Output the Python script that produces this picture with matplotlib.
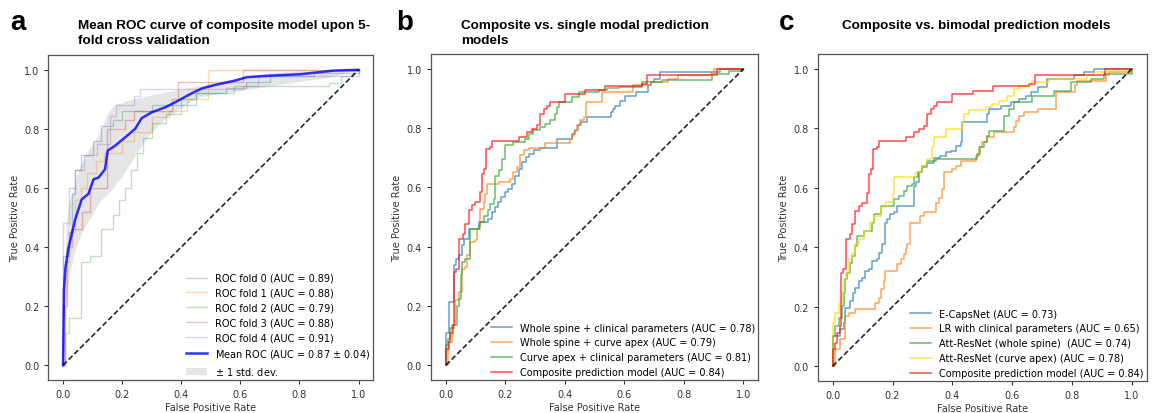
import matplotlib
matplotlib.use("Agg")
import matplotlib.pyplot as plt

plt.rcParams['font.family'] = ['DejaVu Sans']
plt.rcParams['font.size'] = 7

# ---- panel a: 5-fold cross validation ----
fold0_fpr = [0, 0, 0.02, 0.03, 0.04, 0.06, 0.10, 0.13, 0.17, 0.20, 0.30, 0.45, 0.55, 0.62, 0.70, 0.85, 1.0]
fold0_tpr = [0, 0.37, 0.45, 0.58, 0.66, 0.71, 0.76, 0.81, 0.83, 0.86, 0.88, 0.92, 0.94, 0.96, 0.98, 0.99, 1.0]
fold1_fpr = [0, 0, 0.01, 0.02, 0.04, 0.06, 0.08, 0.11, 0.14, 0.20, 0.24, 0.30, 0.36, 0.42, 0.49, 1.0]
fold1_tpr = [0, 0.20, 0.35, 0.45, 0.56, 0.60, 0.65, 0.69, 0.72, 0.76, 0.79, 0.84, 0.86, 0.90, 1.0, 1.0]
fold2_fpr = [0, 0.008, 0.02, 0.06, 0.09, 0.13, 0.17, 0.19, 0.21, 0.23, 0.25, 0.27, 0.30, 0.35, 0.40,
             0.45, 0.58, 0.90, 0.94, 0.98, 1.0]
fold2_tpr = [0, 0.11, 0.16, 0.35, 0.37, 0.46, 0.51, 0.56, 0.60, 0.66, 0.72, 0.77, 0.82, 0.85, 0.90,
             0.92, 0.945, 0.955, 0.98, 0.997, 1.0]
fold3_fpr = [0, 0.008, 0.015, 0.03, 0.065, 0.09, 0.15, 0.21, 0.24, 0.37, 0.39, 0.61, 1.0]
fold3_tpr = [0, 0.20, 0.40, 0.46, 0.52, 0.60, 0.80, 0.83, 0.86, 0.90, 0.96, 1.0, 1.0]
fold4_fpr = [0, 0, 0.02, 0.04, 0.07, 0.115, 0.16, 0.18, 0.24, 0.26, 0.61, 0.66, 1.0]
fold4_tpr = [0, 0.48, 0.60, 0.66, 0.71, 0.75, 0.845, 0.88, 0.91, 0.935, 0.945, 0.98, 1.0]
fold_auc = [0.89, 0.88, 0.79, 0.88, 0.91]

mean_fpr = [0, 0.003, 0.008, 0.019, 0.041, 0.063, 0.086, 0.103, 0.12, 0.142, 0.151, 0.176, 0.21, 0.244,
            0.266, 0.30, 0.346, 0.391, 0.425, 0.47, 0.52, 0.577, 0.622, 0.70, 0.803, 0.915, 1.0]
mean_tpr = [0, 0.25, 0.33, 0.40, 0.493, 0.561, 0.58, 0.629, 0.635, 0.663, 0.726, 0.743, 0.771, 0.80,
            0.836, 0.856, 0.873, 0.896, 0.915, 0.937, 0.95, 0.962, 0.975, 0.98, 0.985, 0.997, 1.0]
band_fpr = [0, 0.01, 0.02, 0.04, 0.06, 0.08, 0.1, 0.12, 0.15, 0.17, 0.2, 0.25, 0.3, 0.35, 0.4, 0.45,
            0.5, 0.6, 0.7, 0.8, 0.9, 1.0]
band_upper = [0.05, 0.47, 0.55, 0.62, 0.68, 0.72, 0.75, 0.78, 0.85, 0.88, 0.89, 0.905, 0.915, 0.925,
              0.935, 0.945, 0.955, 0.975, 0.99, 0.995, 0.998, 1.0]
band_lower = [0.0, 0.22, 0.30, 0.39, 0.44, 0.48, 0.51, 0.55, 0.58, 0.60, 0.64, 0.72, 0.79, 0.84, 0.87,
              0.905, 0.915, 0.93, 0.945, 0.96, 0.975, 1.0]
mean_auc, std_auc = 0.87, 0.04

# ---- composite model (shared by b and c) ----
comp_fpr = [0, 0, 0.009, 0.015, 0.024, 0.028, 0.035, 0.043, 0.057, 0.065, 0.076, 0.087, 0.099, 0.115,
            0.121, 0.127, 0.134, 0.149, 0.155, 0.244, 0.272, 0.289, 0.306, 0.317, 0.328, 0.339, 0.35,
            0.40, 0.468, 0.535, 0.658, 0.675, 0.91, 1.0]
comp_tpr = [0, 0.056, 0.079, 0.11, 0.135, 0.315, 0.326, 0.427, 0.444, 0.478, 0.522, 0.539, 0.55, 0.584,
            0.646, 0.663, 0.73, 0.736, 0.758, 0.77, 0.787, 0.798, 0.809, 0.848, 0.865, 0.876, 0.888,
            0.916, 0.927, 0.942, 0.95, 0.978, 1.0, 1.0]

# ---- panel b: single modal models ----
wsc_fpr = [0, 0, 0.009, 0.026, 0.035, 0.043, 0.054, 0.06, 0.076, 0.11, 0.143, 0.155, 0.165, 0.175, 0.185,
           0.20, 0.21, 0.222, 0.233, 0.245, 0.256, 0.268, 0.28, 0.295, 0.317, 0.373, 0.423, 0.433, 0.445,
           0.455, 0.475, 0.555, 0.562, 0.569, 0.586, 0.603, 0.64, 0.68, 0.69, 0.70, 0.72, 0.92, 1.0]
wsc_tpr = [0, 0.107, 0.213, 0.337, 0.36, 0.371, 0.404, 0.427, 0.46, 0.483, 0.494, 0.517, 0.534, 0.551,
           0.567, 0.584, 0.596, 0.612, 0.64, 0.663, 0.685, 0.702, 0.713, 0.725, 0.733, 0.764, 0.781, 0.792,
           0.81, 0.82, 0.837, 0.854, 0.865, 0.876, 0.893, 0.91, 0.921, 0.944, 0.955, 0.966, 0.989, 1.0, 1.0]
wsa_fpr = [0, 0.006, 0.02, 0.031, 0.043, 0.054, 0.065, 0.071, 0.082, 0.099, 0.104, 0.115, 0.127, 0.132,
           0.138, 0.177, 0.216, 0.227, 0.239, 0.25, 0.261, 0.278, 0.333, 0.418, 0.425, 0.432, 0.44, 0.452,
           0.465, 0.47, 0.524, 0.63, 0.69, 0.745, 0.78, 0.89, 0.90, 1.0]
wsa_tpr = [0, 0.079, 0.135, 0.219, 0.247, 0.326, 0.331, 0.371, 0.416, 0.421, 0.46, 0.528, 0.55, 0.579,
           0.612, 0.618, 0.629, 0.652, 0.669, 0.708, 0.725, 0.733, 0.75, 0.764, 0.775, 0.79, 0.81, 0.826,
           0.837, 0.888, 0.921, 0.944, 0.955, 0.967, 0.978, 0.99, 1.0, 1.0]
cac_fpr = [0, 0, 0.006, 0.015, 0.026, 0.037, 0.043, 0.05, 0.054, 0.065, 0.082, 0.11, 0.115, 0.127, 0.143,
           0.149, 0.16, 0.166, 0.177, 0.188, 0.2, 0.227, 0.267, 0.278, 0.294, 0.317, 0.334, 0.35, 0.367,
           0.373, 0.379, 0.423, 0.446, 0.513, 0.541, 0.58, 0.658, 0.726, 0.893, 0.95, 1.0]
cac_tpr = [0, 0.067, 0.09, 0.124, 0.135, 0.2, 0.225, 0.303, 0.348, 0.36, 0.46, 0.47, 0.483, 0.505, 0.522,
           0.545, 0.562, 0.64, 0.657, 0.697, 0.742, 0.753, 0.764, 0.781, 0.792, 0.803, 0.815, 0.826, 0.848,
           0.871, 0.888, 0.904, 0.921, 0.93, 0.935, 0.938, 0.955, 0.961, 0.983, 0.994, 1.0]
b_labels = ['Whole spine + clinical parameters (AUC = 0.78)',
            'Whole spine + curve apex (AUC = 0.79)',
            'Curve apex + clinical parameters (AUC = 0.81)',
            'Composite prediction model (AUC = 0.84)']

# ---- panel c: bimodal models ----
caps_fpr = [0, 0, 0.026, 0.037, 0.042, 0.059, 0.067, 0.076, 0.087, 0.098, 0.107, 0.121, 0.132, 0.149,
            0.154, 0.165, 0.174, 0.182, 0.193, 0.204, 0.216, 0.272, 0.279, 0.288, 0.30, 0.316, 0.339,
            0.36, 0.378, 0.394, 0.411, 0.428, 0.434, 0.517, 0.523, 0.562, 0.596, 0.623, 0.646, 0.663,
            0.685, 0.718, 0.808, 0.84, 0.875, 1.0]
caps_tpr = [0, 0.101, 0.124, 0.146, 0.197, 0.219, 0.247, 0.264, 0.287, 0.298, 0.32, 0.326, 0.354, 0.36,
            0.382, 0.41, 0.483, 0.494, 0.511, 0.517, 0.539, 0.607, 0.618, 0.652, 0.67, 0.685, 0.70,
            0.708, 0.719, 0.725, 0.742, 0.753, 0.82, 0.848, 0.865, 0.876, 0.888, 0.899, 0.91, 0.921,
            0.938, 0.966, 0.978, 0.989, 1.0, 1.0]
lr_fpr = [0, 0.009, 0.026, 0.042, 0.054, 0.076, 0.143, 0.154, 0.16, 0.171, 0.176, 0.216, 0.227, 0.239,
          0.244, 0.25, 0.26, 0.293, 0.305, 0.344, 0.355, 0.366, 0.372, 0.40, 0.411, 0.428, 0.478, 0.489,
          0.50, 0.517, 0.539, 0.607, 0.613, 0.624, 0.641, 0.686, 0.747, 0.81, 0.818, 0.914, 0.925, 1.0]
lr_tpr = [0, 0.056, 0.09, 0.169, 0.18, 0.191, 0.213, 0.23, 0.258, 0.287, 0.32, 0.343, 0.36, 0.376,
          0.399, 0.41, 0.483, 0.506, 0.517, 0.55, 0.567, 0.595, 0.652, 0.663, 0.674, 0.691, 0.708, 0.736,
          0.753, 0.77, 0.787, 0.803, 0.826, 0.843, 0.854, 0.865, 0.921, 0.946, 0.96, 0.978, 0.989, 1.0]
arws_fpr = [0, 0, 0.009, 0.02, 0.031, 0.037, 0.042, 0.048, 0.059, 0.065, 0.076, 0.082, 0.104, 0.132,
            0.137, 0.16, 0.205, 0.221, 0.238, 0.249, 0.264, 0.272, 0.286, 0.30, 0.316, 0.344, 0.483,
            0.494, 0.506, 0.517, 0.522, 0.572, 0.589, 0.606, 0.668, 0.74, 0.796, 0.863, 0.908, 1.0]
arws_tpr = [0, 0.101, 0.135, 0.163, 0.202, 0.247, 0.292, 0.315, 0.348, 0.371, 0.404, 0.438, 0.455, 0.483,
            0.511, 0.539, 0.562, 0.573, 0.59, 0.607, 0.612, 0.635, 0.652, 0.674, 0.691, 0.697, 0.714,
            0.736, 0.753, 0.775, 0.792, 0.843, 0.865, 0.888, 0.91, 0.926, 0.955, 0.967, 0.983, 1.0]
arca_fpr = [0, 0, 0.009, 0.02, 0.031, 0.037, 0.045, 0.054, 0.065, 0.076, 0.087, 0.104, 0.126, 0.137,
            0.16, 0.177, 0.20, 0.205, 0.277, 0.30, 0.316, 0.333, 0.339, 0.378, 0.434, 0.439, 0.456, 0.511,
            0.534, 0.556, 0.584, 0.606, 0.623, 0.662, 0.723, 0.852, 0.875, 0.92, 1.0]
arca_tpr = [0, 0.146, 0.18, 0.208, 0.247, 0.292, 0.315, 0.36, 0.382, 0.41, 0.427, 0.455, 0.483, 0.506,
            0.534, 0.551, 0.579, 0.635, 0.652, 0.674, 0.697, 0.736, 0.77, 0.798, 0.82, 0.848, 0.86, 0.871,
            0.882, 0.893, 0.91, 0.933, 0.944, 0.955, 0.967, 0.978, 0.989, 0.995, 1.0]
c_labels = ['E-CapsNet (AUC = 0.73)',
            'LR with clinical parameters (AUC = 0.65)',
            'Att-ResNet (whole spine)  (AUC = 0.74)',
            'Att-ResNet (curve apex) (AUC = 0.78)',
            'Composite prediction model (AUC = 0.84)']

fig = plt.figure(figsize=(11.55, 4.14), dpi=100)
ax_a = fig.add_axes([0.0418, 0.0797, 0.2814, 0.7850])
ax_b = fig.add_axes([0.3732, 0.0797, 0.2834, 0.7874])
ax_c = fig.add_axes([0.7080, 0.0773, 0.2848, 0.7898])


def style_axes(ax):
    ax.plot([0, 1], [0, 1], color='black', lw=1.2, linestyle=(0, (3.2, 1.6)), alpha=0.85)
    ax.set_xlim(-0.05, 1.05)
    ax.set_ylim(-0.05, 1.05)
    ax.set_xticks([0, 0.2, 0.4, 0.6, 0.8, 1.0])
    ax.set_yticks([0, 0.2, 0.4, 0.6, 0.8, 1.0])
    ax.tick_params(labelsize=7, colors='#333333', length=3)
    ax.set_xlabel('False Positive Rate', fontsize=7, color='#333333', labelpad=2)
    ax.set_ylabel('True Positive Rate', fontsize=7, color='#333333', labelpad=3)
    for s in ax.spines.values():
        s.set_color('#555555')
        s.set_linewidth(0.9)


legend_kw = dict(loc='lower right', frameon=False, fontsize=7, labelspacing=0.5, handlelength=2.2,
                 borderaxespad=0.1, borderpad=0.2)

# panel a
folds = [(fold0_fpr, fold0_tpr), (fold1_fpr, fold1_tpr), (fold2_fpr, fold2_tpr),
         (fold3_fpr, fold3_tpr), (fold4_fpr, fold4_tpr)]
for i, (f, t) in enumerate(folds):
    ax_a.plot(f, t, drawstyle='steps-post', lw=1, alpha=0.3,
              label='ROC fold %d (AUC = %.2f)' % (i, fold_auc[i]))
ax_a.plot(mean_fpr, mean_tpr, color='b', lw=1.8, alpha=0.8,
          label=r'Mean ROC (AUC = %0.2f $\pm$ %0.2f)' % (mean_auc, std_auc))
ax_a.fill_between(band_fpr, band_lower, band_upper, color='grey', alpha=0.2, lw=0,
                  label=r'$\pm$ 1 std. dev.')
style_axes(ax_a)
ax_a.legend(**legend_kw)

# panel b
b_curves = [(wsc_fpr, wsc_tpr, 'tab:blue'), (wsa_fpr, wsa_tpr, 'tab:orange'),
            (cac_fpr, cac_tpr, 'tab:green'), (comp_fpr, comp_tpr, 'red')]
for (f, t, c), lab in zip(b_curves, b_labels):
    ax_b.plot(f, t, drawstyle='steps-post', color=c, lw=1.1, alpha=0.7, label=lab)
style_axes(ax_b)
ax_b.legend(**legend_kw)

# panel c
c_curves = [(caps_fpr, caps_tpr, 'tab:blue'), (lr_fpr, lr_tpr, 'tab:orange'),
            (arws_fpr, arws_tpr, 'tab:green'), (arca_fpr, arca_tpr, 'gold'),
            (comp_fpr, comp_tpr, 'red')]
for (f, t, c), lab in zip(c_curves, c_labels):
    ax_c.plot(f, t, drawstyle='steps-post', color=c, lw=1.1, alpha=0.7, label=lab)
style_axes(ax_c)
ax_c.legend(**legend_kw)

# titles and panel letters
title_kw = dict(fontsize=9.7, fontweight='bold', family='Liberation Sans', va='top', ha='left',
                linespacing=1.3)
fig.text(0.0675, 0.952, 'Mean ROC curve of composite model upon 5-\nfold cross validation', **title_kw)
fig.text(0.399, 0.952, 'Composite vs. single modal prediction\nmodels', **title_kw)
fig.text(0.729, 0.952, 'Composite vs. bimodal prediction models', **title_kw)

letter_kw = dict(fontsize=20, fontweight='bold', family='Liberation Sans', va='baseline')
fig.text(0.009, 0.928, 'a', **letter_kw)
fig.text(0.343, 0.928, 'b', **letter_kw)
fig.text(0.674, 0.928, 'c', **letter_kw)

fig.savefig('out.png', dpi=100)
